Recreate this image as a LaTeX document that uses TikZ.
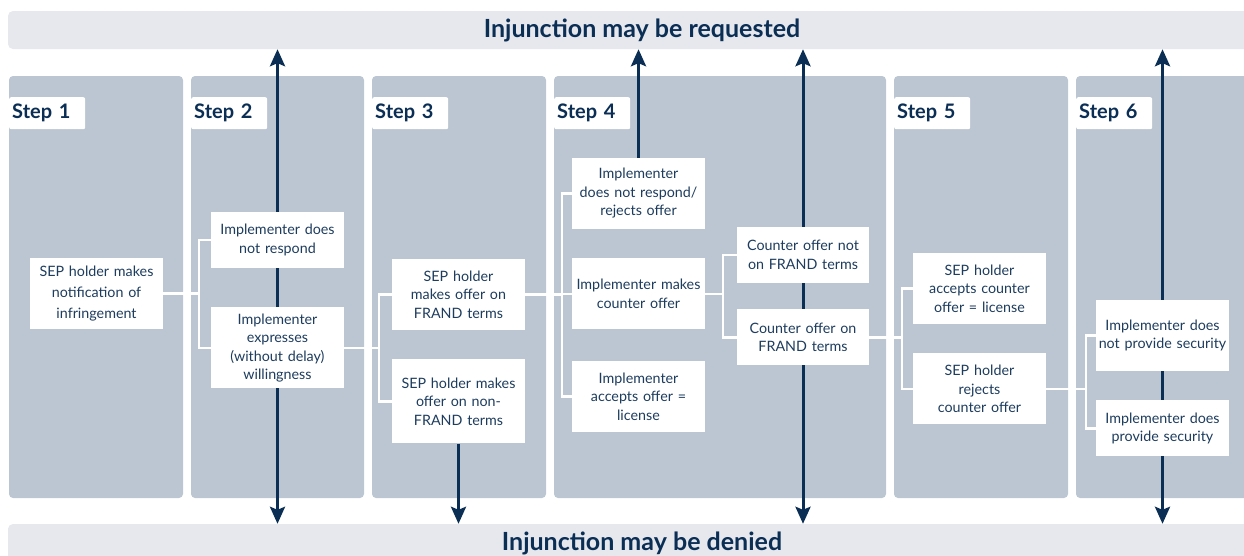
\documentclass[tikz,border=0pt]{standalone}
\usepackage{fontspec}
\setmainfont{Lato}
\usepackage{xcolor}
\usepackage{tikz}
\usetikzlibrary{positioning}
\usetikzlibrary{arrows.meta}
\usetikzlibrary{backgrounds}

\definecolor{navy}{HTML}{0B2E55}
\definecolor{ink}{HTML}{1D3C5E}
\definecolor{panel}{HTML}{BCC6D2}
\definecolor{banner}{HTML}{E6E8ED}

\begin{document}
\begin{tikzpicture}[x=1pt,y=-1pt,
    box/.style={fill=white, text=ink, align=center, inner sep=0pt,
minimum width=133pt, text width=132pt, font=\fontsize{14.3}{18.5}\selectfont},
    steplabel/.style={fill=white, text=navy, rounded corners=2pt, anchor=north west,
minimum width=75pt, minimum height=32pt, text width=70pt, inner xsep=3pt,
font=\bfseries\fontsize{20}{22}\selectfont},
    bannerbox/.style={fill=banner, rounded corners=5pt, text=navy,
minimum width=1268pt, minimum height=38pt, font=\bfseries\fontsize{25}{28}\selectfont},
    column/.style={fill=panel, rounded corners=4pt},
    link/.style={draw=white, line width=2.5pt},
    arrow/.style={draw=navy, line width=3pt, -{Stealth[length=17pt,width=15pt,inset=3pt]}},
    biarrow/.style={arrow, {Stealth[length=17pt,width=15pt,inset=3pt]}-{Stealth[length=17pt,width=15pt,inset=3pt]}}]
\useasboundingbox (0,0) rectangle (1244,555);

\node[bannerbox] (requested) at (642,30) {Injunction may be requested};
\node[bannerbox] (denied) at (642,543) {Injunction may be denied};

\node[steplabel] (step1) at (9,97) {Step 1};
\node[steplabel] (step2) at (191,97) {Step 2};
\node[steplabel] (step3) at (372,97) {Step 3};
\node[steplabel] (step4) at (554,97) {Step 4};
\node[steplabel] (step5) at (894,97) {Step 5};
\node[steplabel] (step6) at (1076,97) {Step 6};

\node[box, minimum height=71pt, font=\fontsize{14.3}{21}\selectfont] (notify) at (96.5,293.5) {SEP holder makes\\notification of\\infringement};
\node[box, minimum height=56pt] (noresp) at (277.5,240) {Implementer does\\not respond};
\node[box, minimum height=81pt] (express) [below=39pt of noresp] {Implementer\\expresses\\(without delay)\\willingness};
\node[box, minimum height=71pt] (frand) at (458.5,294.5) {SEP holder\\makes offer on\\FRAND terms};
\node[box, minimum height=84pt] (nonfrand) [below=29pt of frand] {SEP holder makes\\offer on non-\\FRAND terms};
\node[box, minimum height=71pt] (rejects) at (638.5,193.5) {Implementer\\does not respond/\\rejects offer};
\node[box, minimum height=71pt] (counter) [below=29pt of rejects] {Implementer makes\\counter offer};
\node[box, minimum height=71pt] (accepts) [below=31pt of counter] {Implementer\\accepts offer =\\license};
\node[box, minimum height=56pt, minimum width=132pt] (cnotfrand) at (803,255) {Counter offer not\\on FRAND terms};
\node[box, minimum height=56pt, minimum width=132pt] (conf) [below=26pt of cnotfrand] {Counter offer on\\FRAND terms};
\node[box, minimum height=71pt] (holdacc) at (979.5,288.5) {SEP holder\\accepts counter\\offer = license};
\node[box, minimum height=71pt] (holdrej) [below=29pt of holdacc] {SEP holder\\rejects\\counter offer};
\node[box, minimum height=71pt] (nosec) at (1162.5,335.5) {Implementer does\\not provide security};
\node[box, minimum height=56pt] (sec) [below=29pt of nosec] {Implementer does\\provide security};

\coordinate (fork1) at ([xshift=-12pt]noresp.west);
\coordinate (fork2) at ([xshift=-13pt]frand.west);
\coordinate (fork3) at ([xshift=-10pt]rejects.west);
\coordinate (fork4) at ([xshift=-14pt]cnotfrand.west);
\coordinate (fork5) at ([xshift=-11pt]holdacc.west);
\coordinate (fork6) at ([xshift=-10pt]nosec.west);

\begin{scope}[on background layer]
% step columns
\fill[column] (9,76) rectangle (183,498);
\fill[column] (191,76) rectangle (364,498);
\fill[column] (372,76) rectangle (546,498);
\fill[column] (554,76) rectangle (886,498);
\fill[column] (894,76) rectangle (1068,498);
\fill[column] (1076,76) rectangle (1262,498);

\draw[biarrow] (requested.south -| noresp) -- (denied.north -| noresp);
\draw[arrow] (nonfrand) -- (denied.north -| nonfrand);
\draw[arrow] (rejects) -- (requested.south -| rejects);
\draw[biarrow] (requested.south -| cnotfrand) -- (denied.north -| cnotfrand);
\draw[biarrow] (requested.south -| nosec) -- (denied.north -| nosec);

\draw[link] (notify.east) -- (fork1 |- notify.east);
\draw[link] (noresp.west) -- (fork1) |- (express.west);
\draw[link] (express.east) -- (fork2 |- express.east);
\draw[link] (frand.west) -- (fork2) |- (nonfrand.west);
\draw[link] (frand.east) -- (fork3 |- frand.east);
\draw[link] (rejects.west) -- (fork3) |- (accepts.west);
\draw[link] (fork3 |- counter.west) -- (counter.west);
\draw[link] (counter.east) -- (fork4 |- counter.east);
\draw[link] (cnotfrand.west) -- (fork4) |- (conf.west);
\draw[link] (conf.east) -- (fork5 |- conf.east);
\draw[link] (holdacc.west) -- (fork5) |- (holdrej.west);
\draw[link] (holdrej.east) -- (fork6 |- holdrej.east);
\draw[link] (nosec.west) -- (fork6) |- (sec.west);
\end{scope}
\end{tikzpicture}
\end{document}
